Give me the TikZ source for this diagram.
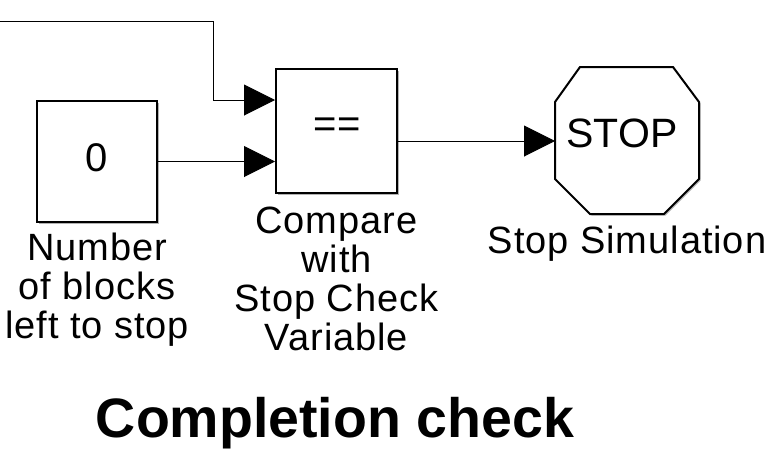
\documentclass[tikz,border=0pt]{standalone}
\usepackage{fontspec}
\setmainfont{Liberation Sans}
\newfontfamily\lblfont[LetterSpace=2.5]{Liberation Sans}
\usetikzlibrary{positioning,arrows.meta,shadows}

\tikzset{
  blk/.style = {draw, line width=2pt, fill=white, inner sep=0pt,
    drop shadow={shadow xshift=1.5pt, shadow yshift=-1.5pt, fill=black, opacity=.3}},
  sig/.style = {line width=1pt, -{Triangle[length=31pt, width=31pt]}},
  lbl/.style = {align=center, inner sep=0pt, font=\lblfont\fontsize{38}{38.8}\selectfont}
}

\begin{document}
\begin{tikzpicture}[x=1pt, y=1pt]
		\useasboundingbox (0,0) rectangle (778,-458);
		% blocks
		\node[blk, minimum width=120pt, minimum height=121pt, text depth=7pt,
		      font=\fontsize{40}{44}\selectfont] (constblk) at (97,-161.5) {0};
		\node[blk, minimum width=121pt, minimum height=124pt] (cmpblk) at (336.5,-131) {};
		\node[font=\fontsize{40}{44}\selectfont] (cmptxt) at (337,-128) {==};
		\node[minimum width=142pt, minimum height=145pt, inner sep=0pt, line width=2pt] (stopblk) at (627,-140.5) {};
		\draw[blk] ([xshift=25pt]stopblk.north west) -- ([xshift=-26pt]stopblk.north east)
			-- ([yshift=-35pt]stopblk.north east) -- ([yshift=35pt]stopblk.south east)
			-- ([xshift=-35pt]stopblk.south east) -- ([xshift=35pt]stopblk.south west)
			-- ([yshift=35pt]stopblk.south west) -- ([yshift=-35pt]stopblk.north west) -- cycle;
		\node[font=\fontsize{41}{45}\selectfont] (stoptxt) at ([shift={(-5pt,7.5pt)}]stopblk.center) {STOP};
		% labels
		\node[lbl, below=10pt of constblk] (constlbl) {Number\\of blocks\\left to stop};
		\node[lbl, below=13pt of cmpblk] (cmplbl) {Compare\\with\\Stop Check\\Variable};
		\node[lbl, below=12pt of stopblk] (stoplbl) {Stop Simulation};
		\node[anchor=base, inner sep=0pt, font=\fontsize{55.5}{60}\selectfont\bfseries] (title) at (335,-437) {Completion check};
		% signals
		\coordinate (feedin) at (0,-21);
		\coordinate (bend) at (213,-21);
		\draw[sig] (feedin) -- (bend) |- ([yshift=31pt]cmpblk.west);
		\draw[sig] (constblk.east) -- (constblk.east -| cmpblk.west);
		\draw[sig] ([yshift=-10pt]cmpblk.east) -- ([yshift=-10pt]cmpblk.east -| stopblk.west);
	\end{tikzpicture}
\end{document}
